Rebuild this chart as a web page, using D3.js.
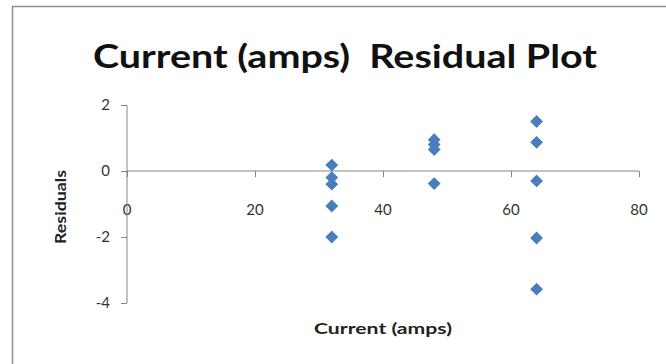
<!DOCTYPE html>
<html>
<head>
<meta charset="utf-8">
<script src="https://cdn.jsdelivr.net/npm/d3@7"></script>
<style>
  html, body { margin: 0; padding: 0; background: #fff; }
  svg { display: block; }
  text { font-family: Lato, "Open Sans", sans-serif; }
</style>
</head>
<body>
<svg id="chart" width="666" height="364"></svg>
<script>
// Residuals from the current regression, grouped by current level
const currentAmps = [32, 32, 32, 32, 32, 48, 48, 48, 48, 64, 64, 64, 64, 64];
const residuals   = [0.18, -0.2, -0.4, -1.06, -2.0, 0.95, 0.8, 0.65, -0.38, 1.5, 0.87, -0.3, -2.03, -3.58];
const xTicks = [0, 20, 40, 60, 80];
const yTicks = [2, 0, -2, -4];

const svg = d3.select("#chart");

// outer chart frame
svg.append("rect")
  .attr("x", 12.5).attr("y", 6.5)
  .attr("width", 700).attr("height", 400)
  .attr("fill", "#fff")
  .attr("stroke", "#8e8e8e").attr("stroke-width", 1.5);

const x = d3.scaleLinear().domain([0, 80]).range([127, 639]);
const y = d3.scaleLinear().domain([-4, 2]).range([303, 105]);

const axisColor = "#868686";
const labelColor = "#333";

// horizontal axis through zero
const xAxis = svg.append("g")
  .attr("transform", `translate(0,${y(0)})`)
  .call(d3.axisBottom(x).tickValues(xTicks).tickSize(6).tickFormat(""));
xAxis.select(".domain").attr("stroke", axisColor).attr("d", `M${x(0)},0H${x(80)}`);
xAxis.selectAll(".tick line").attr("stroke", axisColor);

// x tick labels sit below the plot's zero line
svg.append("g").selectAll("text")
  .data(xTicks)
  .join("text")
  .attr("x", d => x(d))
  .attr("y", 215)
  .attr("text-anchor", "middle")
  .attr("font-size", 15)
  .attr("fill", labelColor)
  .text(d => d);

// vertical axis
const yAxis = svg.append("g")
  .attr("transform", `translate(${x(0)},0)`)
  .call(d3.axisLeft(y).tickValues(yTicks).tickSize(6).tickPadding(11).tickFormat(d => String(d)));
yAxis.select(".domain").attr("stroke", axisColor).attr("d", `M0,${y(2)}V${y(-4)}`);
yAxis.selectAll(".tick line").attr("stroke", axisColor);
yAxis.selectAll(".tick text")
  .attr("font-size", 15)
  .attr("fill", labelColor)
  .attr("font-family", "Lato, 'Open Sans', sans-serif");

// residual markers (diamonds)
const diamond = d3.symbol().type(d3.symbolSquare).size(82);
svg.append("g").selectAll("path")
  .data(currentAmps.map((c, i) => ({ c, r: residuals[i] })))
  .join("path")
  .attr("d", diamond)
  .attr("transform", d => `translate(${x(d.c)},${y(d.r)}) rotate(45)`)
  .attr("fill", "#4a7ebb");

// title
svg.append("text")
  .attr("x", 345).attr("y", 68)
  .attr("text-anchor", "middle")
  .attr("font-size", 32)
  .attr("font-weight", "bold")
  .attr("fill", "#111")
  .attr("textLength", 504)
  .attr("lengthAdjust", "spacingAndGlyphs")
  .style("white-space", "pre")
  .text("Current (amps)  Residual Plot");

// axis titles
svg.append("text")
  .attr("x", 383).attr("y", 334)
  .attr("text-anchor", "middle")
  .attr("font-size", 16)
  .attr("font-weight", "bold")
  .attr("fill", "#222")
  .attr("textLength", 138)
  .attr("lengthAdjust", "spacingAndGlyphs")
  .text("Current (amps)");

svg.append("text")
  .attr("transform", "translate(66,207) rotate(-90)")
  .attr("text-anchor", "middle")
  .attr("font-size", 15)
  .attr("font-weight", "bold")
  .attr("fill", "#222")
  .attr("textLength", 74)
  .attr("lengthAdjust", "spacingAndGlyphs")
  .text("Residuals");
</script>
</body>
</html>
